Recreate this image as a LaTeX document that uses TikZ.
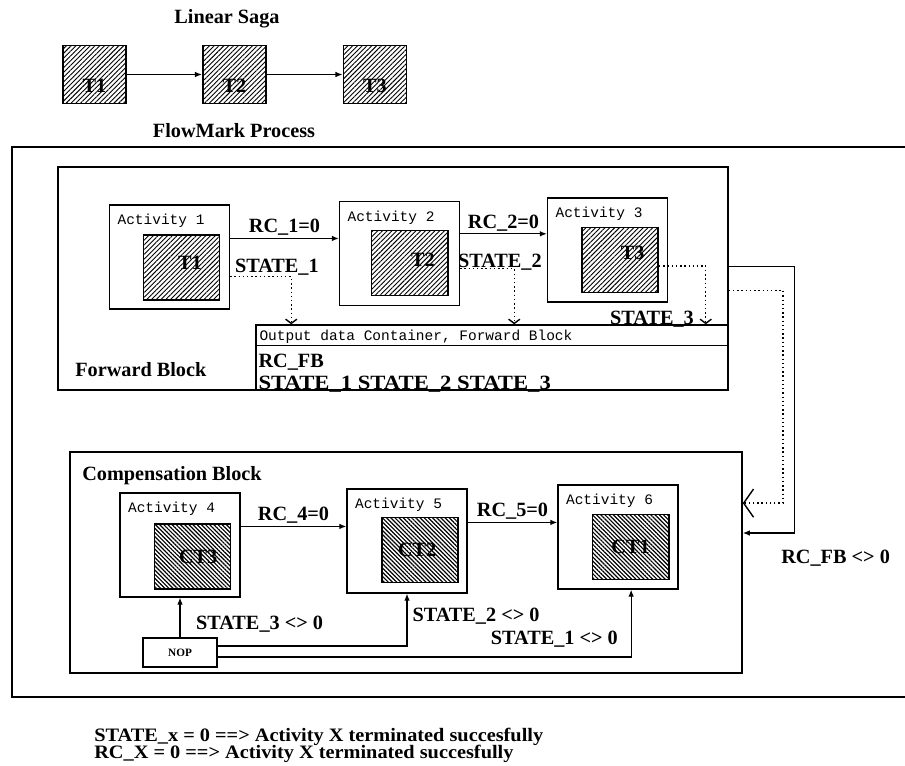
\documentclass[tikz,border=0pt]{standalone}
\usepackage{graphicx}
\usepackage{fontspec}
\setmainfont{Liberation Serif}
\setmonofont{Liberation Mono}
\usetikzlibrary{arrows.meta,calc,positioning,patterns.meta}

\begin{document}
\begin{tikzpicture}[x=0.025cm,y=-0.025cm,
  bold/.style={font=\bfseries\fontsize{14.4}{16}\selectfont,inner sep=0pt},
  mono/.style={font=\ttfamily\fontsize{10.3}{12}\selectfont,inner sep=0pt},
  act/.style={draw,line width=0.9pt,minimum width=3cm,minimum height=2.6cm},
  blk/.style={draw,line width=1pt},
  job/.style={draw,line width=1.4pt,minimum width=1.9cm,minimum height=1.625cm,
    pattern={Lines[angle=45,distance=2.4pt,line width=0.65pt]}},
  cjob/.style={job,pattern={Lines[angle=-45,distance=2.1pt,line width=0.85pt]}},
  jtxt/.style={bold},
  legend/.style={font=\bfseries\fontsize{13.5}{15}\selectfont,inner sep=0pt},
  arr/.style={line width=0.9pt,-{Latex[length=5pt,width=4pt]}},
  darr/.style={dotted,line width=1pt,-{Straight Barb[length=3pt,width=8pt]}}]
\useasboundingbox (0,0) rectangle (905,766);

% linear saga
\node[bold,anchor=base] (saga) at (227,24) {Linear Saga};
\node[job,minimum width=1.575cm,minimum height=1.45cm,label={[jtxt,yshift=-8pt]center:T1}] (s1) at (94.5,74.5) {};
\node[job,minimum width=1.575cm,minimum height=1.45cm,label={[jtxt,yshift=-8pt]center:T2}] (s2) at (234.5,74.5) {};
\node[job,minimum width=1.575cm,minimum height=1.45cm,label={[jtxt,yshift=-8pt]center:T3}] (s3) at (375,74.5) {};
\draw[arr] (s1) -- (s2);
\draw[arr] (s2) -- (s3);

\node[bold,anchor=base] (flow) at (234,138) {FlowMark Process};
\draw[line width=1.1pt] (906,147) -| (12,697) -- (906,697);

% forward block
\node[blk,minimum width=16.75cm,minimum height=5.575cm] (fb) at (393,278.5) {};
\node[bold,anchor=base west] (fbname) at (75,377) {Forward Block};
\node[act] (a1) at (169.5,257) {};
\node[job,label={[jtxt,xshift=6pt,yshift=3pt]center:T1}] (t1) at (181.5,267.5) {};
\node[mono,anchor=north west] (a1n) at ([shift={(6pt,-7pt)}]a1.north west) {Activity 1};
\node[act] (a2) at (399.5,253.5) {};
\node[job,label={[jtxt,xshift=9.5pt,yshift=2pt]center:T2}] (t2) at (409.5,263) {};
\node[mono,anchor=north west] (a2n) at ([shift={(6pt,-7pt)}]a2.north west) {Activity 2};
\node[act] (a3) at (607.5,250) {};
\node[job,label={[jtxt,xshift=9pt,yshift=5pt]center:T3}] (t3) at (620,260) {};
\node[mono,anchor=north west] (a3n) at ([shift={(6pt,-7pt)}]a3.north west) {Activity 3};

\node[blk,minimum width=11.8cm,minimum height=1.625cm] (oc) at (492,357.5) {};
\draw[blk] ($(oc.north west)+(0,21)$) -- ($(oc.north east)+(0,21)$);
\node[mono,anchor=base west] (ochead) at ($(oc.north west)+(4,16)$) {Output data Container, Forward Block};
\node[bold,anchor=base west] (ocrc) at ($(oc.south west)+(3,-23)$) {RC\_FB};
\node[bold,anchor=base west] (ocst) at ($(oc.south west)+(3,-1)$) {\scalebox{1.12}[1]{STATE\_1 STATE\_2 STATE\_3}};

\draw[arr] (a1.17) -- node[bold,anchor=base,yshift=4pt] (rc1) {RC\_1=0} (a2.west |- a1.17);
\draw[arr] (a2.18) -- node[bold,anchor=base,yshift=4pt] (rc2) {RC\_2=0} (a3.west |- a2.18);
\draw[darr] (a1.-18) -| node[bold,pos=0,anchor=base west,xshift=3pt,yshift=3pt] (st1) {STATE\_1} ($(oc.north west)+(36,0)$);
\draw[darr] (a2.-14) -| node[bold,pos=0,anchor=base west,xshift=-2pt,yshift=1pt] (st2) {STATE\_2} ($(oc.north west)+(259,0)$);
\draw[darr] (t3.-9) -| node[bold,pos=1,anchor=base east,xshift=-8pt] (st3) {STATE\_3} ($(oc.north east)+(-23,0)$);

% compensation block
\node[blk,minimum width=16.8cm,minimum height=5.525cm] (cb) at (406,562.5) {};
\node[bold,anchor=base west] (cbname) at (82,480) {Compensation Block};
\node[act] (a4) at (180,545) {};
\node[cjob,label={[jtxt,xshift=4pt]center:CT3}] (ct3) at (192.5,556.5) {};
\node[mono,anchor=north west] (a4n) at ([shift={(6pt,-7pt)}]a4.north west) {Activity 4};
\node[act] (a5) at (407,541) {};
\node[cjob,label={[jtxt,xshift=-2pt]center:CT2}] (ct2) at (420,550) {};
\node[mono,anchor=north west] (a5n) at ([shift={(6pt,-7pt)}]a5.north west) {Activity 5};
\node[act] (a6) at (618,537) {};
\node[cjob,label={[jtxt]center:CT1}] (ct1) at (630.5,547) {};
\node[mono,anchor=north west] (a6n) at ([shift={(6pt,-7pt)}]a6.north west) {Activity 6};
\node[draw,line width=0.9pt,minimum width=1.85cm,minimum height=0.725cm,font=\bfseries\fontsize{8}{9}\selectfont] (nop) at (180,652.5) {NOP};

\draw[arr] (a4.17) -- node[bold,anchor=base,yshift=4pt] (rc4) {RC\_4=0} (a5.west |- a4.17);
\draw[arr] (a5.17) -- node[bold,anchor=base,yshift=4pt] (rc5) {RC\_5=0} (a6.west |- a5.17);
\draw[arr] (nop) -- node[bold,pos=0.2,anchor=base west,xshift=11pt] (ns3) {STATE\_3 <> 0} (a4);
\draw[arr] (nop.10) -| node[bold,pos=0.73,anchor=base west,xshift=3.5pt] (ns2) {STATE\_2 <> 0} (a5.south);
\draw[arr] (nop.-7) -| node[bold,pos=0.59,anchor=base east,xshift=-9pt] (ns1) {STATE\_1 <> 0} (a6.-76);

% forward block to compensation block
\draw[arr] (fb.2) -- ++(66,0) |- node[bold,pos=0.5,anchor=base west,xshift=-10pt,yshift=-22pt] (rcfb) {RC\_FB <> 0} (cb.5);
\draw[darr,-{Straight Barb[length=7pt,width=20pt]}] (fb.-2) -- ++(54,0) |- (cb.10);

\node[legend,anchor=base west] (leg1) at (94,741) {\scalebox{1.07}[1]{STATE\_x = 0 ==> Activity X terminated succesfully}};
\node[legend,anchor=base west] (leg2) at (94,758) {\scalebox{1.07}[1]{RC\_X = 0 ==> Activity X terminated succesfully}};
\end{tikzpicture}
\end{document}
